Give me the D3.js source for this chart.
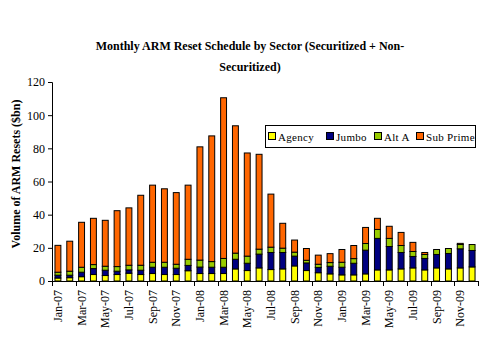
<!DOCTYPE html>
<html>
<head>
<meta charset="utf-8">
<script src="https://cdn.jsdelivr.net/npm/d3@7"></script>
<style>
  body { margin: 0; background: #fff; }
  svg { display: block; }
</style>
</head>
<body>
<svg id="chart" width="493" height="363"></svg>
<script>
// months shown on the category axis
var months = ['Jan-07','Feb-07','Mar-07','Apr-07','May-07','Jun-07','Jul-07','Aug-07','Sep-07','Oct-07','Nov-07','Dec-07',
              'Jan-08','Feb-08','Mar-08','Apr-08','May-08','Jun-08','Jul-08','Aug-08','Sep-08','Oct-08','Nov-08','Dec-08',
              'Jan-09','Feb-09','Mar-09','Apr-09','May-09','Jun-09','Jul-09','Aug-09','Sep-09','Oct-09','Nov-09','Dec-09'];

// series values, $bn
var agency   = [1.8,2.0,2.6,3.9,3.3,3.9,4.7,3.9,4.5,3.9,3.9,6.2, 4.5,4.5,4.5,7.3,6.3,7.9,6.9,7.3,9.1,6.3,5.0,4.3, 3.7,3.7,4.3,6.7,6.7,7.3,7.9,6.7,7.9,7.3,7.9,8.5];
var jumbo    = [1.7,1.5,2.7,3.6,3.2,2.0,2.0,2.6,3.8,4.4,3.8,3.2, 3.9,3.8,3.8,5.8,4.4,8.3,10.3,9.9,5.9,4.6,3.2,4.6, 4.6,7.0,14.3,19.0,14.1,9.9,6.9,6.9,8.1,9.3,11.5,9.9];
var altA     = [1.8,2.4,3.0,2.4,2.4,2.8,2.8,3.0,3.0,3.0,2.4,3.7, 4.2,3.4,5.3,3.7,4.3,3.0,3.2,2.6,2.4,1.6,1.9,2.2, 3.0,2.8,4.0,5.4,4.9,4.2,3.0,2.4,3.0,3.0,2.6,3.6];
var subPrime = [16.2,18.1,27.1,27.9,27.7,33.7,34.6,42.2,46.5,44.3,43.2,44.7, 68.3,75.8,96.9,76.8,62.2,57.2,32.0,15.0,7.3,7.1,5.5,5.4, 7.7,7.9,9.7,6.7,7.3,7.9,5.5,1.2,0,0,0.7,0];

var seriesNames = ['Agency','Jumbo','Alt A','Sub Prime'];
var seriesColors = ['#ffff00','#000080','#99cc00','#ff6600'];
var yTicks = [0,20,40,60,80,100,120];

var serif = '"Liberation Serif","Times New Roman",serif';

var svg = d3.select('#chart');

// plot box
var box = { left: 52, right: 478, top: 82, bottom: 281 };

// build rows for the stack
var rows = months.map(function(m, i) {
	return { month: m, 'Agency': agency[i], 'Jumbo': jumbo[i], 'Alt A': altA[i], 'Sub Prime': subPrime[i] };
});
var stacked = d3.stack().keys(seriesNames)(rows);

var x = d3.scaleBand().domain(months).range([box.left, box.right]).paddingInner(0.5).paddingOuter(0.25);
var y = d3.scaleLinear().domain([0, 120]).range([box.bottom, box.top]);

// title
svg.append('text')
	.attr('x', 250).attr('y', 50)
	.attr('text-anchor', 'middle')
	.style('font-family', serif).style('font-weight', 'bold').style('font-size', '12px')
	.text('Monthly ARM Reset Schedule by Sector (Securitized + Non-');
svg.append('text')
	.attr('x', 250).attr('y', 71)
	.attr('text-anchor', 'middle')
	.style('font-family', serif).style('font-weight', 'bold').style('font-size', '12px')
	.text('Securitized)');

// y axis title
svg.append('text')
	.attr('transform', 'translate(20,174) rotate(-90)')
	.attr('text-anchor', 'middle')
	.style('font-family', serif).style('font-weight', 'bold').style('font-size', '12px')
	.text('Volume of ARM Resets ($bn)');

// bars
svg.append('g').selectAll('g')
	.data(stacked)
	.join('g')
	.attr('fill', function(d, i) { return seriesColors[i]; })
	.selectAll('rect')
	.data(function(d) { return d.filter(function(p) { return p[1] - p[0] > 0; }); })
	.join('rect')
	.attr('x', function(d) { return x(d.data.month); })
	.attr('width', x.bandwidth())
	.attr('y', function(d) { return y(d[1]); })
	.attr('height', function(d) { return y(d[0]) - y(d[1]); })
	.attr('stroke', '#000')
	.attr('stroke-width', 1);

// y axis
var yAxis = svg.append('g')
	.attr('transform', 'translate(' + box.left + ',0)')
	.call(d3.axisLeft(y).tickValues(yTicks).tickSize(4).tickPadding(3));
yAxis.selectAll('text').style('font-family', serif).style('font-size', '12px').attr('fill', '#000');
yAxis.selectAll('line, path').attr('stroke', '#000');

// x axis: ticks every second month boundary
var step = x.step();
var xAxisG = svg.append('g');
xAxisG.append('line')
	.attr('x1', box.left).attr('x2', box.right)
	.attr('y1', box.bottom + 0.5).attr('y2', box.bottom + 0.5)
	.attr('stroke', '#000');
xAxisG.selectAll('line.tk')
	.data(d3.range(0, months.length + 1, 2))
	.join('line')
	.attr('class', 'tk')
	.attr('x1', function(d) { return Math.round(box.left + d * step) + 0.5; })
	.attr('x2', function(d) { return Math.round(box.left + d * step) + 0.5; })
	.attr('y1', box.bottom).attr('y2', box.bottom + 5)
	.attr('stroke', '#000');
xAxisG.selectAll('text')
	.data(months.filter(function(m, i) { return i % 2 === 0; }))
	.join('text')
	.attr('transform', function(d) {
		return 'translate(' + (x(d) + x.bandwidth() / 2 + 4) + ',' + (box.bottom + 9) + ') rotate(-90)';
	})
	.attr('text-anchor', 'end')
	.style('font-family', serif).style('font-size', '12px')
	.text(function(d) { return d; });

// legend
var legend = svg.append('g').attr('transform', 'translate(265,125)');
legend.append('rect')
	.attr('x', 0.5).attr('y', 0.5).attr('width', 210).attr('height', 22)
	.attr('fill', '#fff').attr('stroke', '#000');
var legendX = [3, 61, 109, 151];
var item = legend.selectAll('g.item')
	.data(seriesNames)
	.join('g')
	.attr('class', 'item')
	.attr('transform', function(d, i) { return 'translate(' + legendX[i] + ',0)'; });
item.append('rect')
	.attr('x', 0.5).attr('y', 7.5).attr('width', 7).attr('height', 7)
	.attr('fill', function(d, i) { return seriesColors[i]; })
	.attr('stroke', '#000');
item.append('text')
	.attr('x', 10).attr('y', 15.5)
	.style('font-family', serif).style('font-size', '11px')
	.style('letter-spacing', '0.3px')
	.text(function(d) { return d; });
</script>
</body>
</html>
